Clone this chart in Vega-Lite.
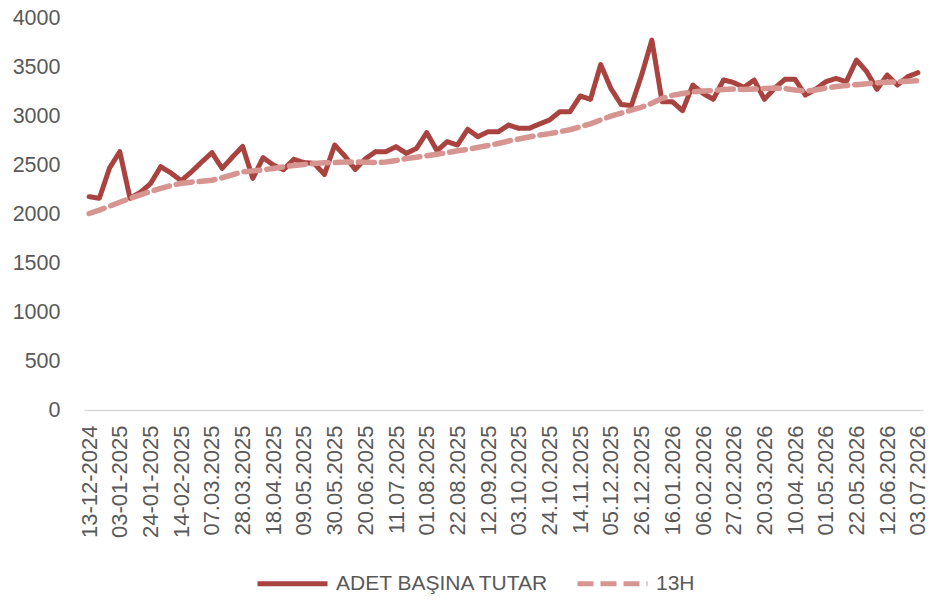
{
  "$schema": "https://vega.github.io/schema/vega-lite/v6.json",
  "autosize": "none",
  "width": 839,
  "height": 392,
  "padding": {"left": 84, "top": 18, "right": 9, "bottom": 191},
  "background": "white",
  "config": {"view": {"stroke": null}, "font": "Liberation Sans"},
  "data": {"values": [
    {"d": "13-12-2024", "a": 2177, "h": 2005},
    {"d": "20-12-2024", "a": 2160, "h": 2040},
    {"d": "27-12-2024", "a": 2470, "h": 2080},
    {"d": "03-01-2025", "a": 2636, "h": 2120},
    {"d": "10-01-2025", "a": 2160, "h": 2160},
    {"d": "17-01-2025", "a": 2220, "h": 2195},
    {"d": "24-01-2025", "a": 2310, "h": 2230},
    {"d": "31-01-2025", "a": 2483, "h": 2262},
    {"d": "07-02-2025", "a": 2418, "h": 2290},
    {"d": "14-02-2025", "a": 2340, "h": 2313},
    {"d": "21.02.2025", "a": 2430, "h": 2325},
    {"d": "28.02.2025", "a": 2530, "h": 2335},
    {"d": "07.03.2025", "a": 2626, "h": 2345},
    {"d": "14.03.2025", "a": 2466, "h": 2370},
    {"d": "21.03.2025", "a": 2580, "h": 2400},
    {"d": "28.03.2025", "a": 2690, "h": 2430},
    {"d": "04.04.2025", "a": 2364, "h": 2440},
    {"d": "11.04.2025", "a": 2575, "h": 2450},
    {"d": "18.04.2025", "a": 2500, "h": 2465},
    {"d": "25.04.2025", "a": 2452, "h": 2480},
    {"d": "02.05.2025", "a": 2558, "h": 2495},
    {"d": "09.05.2025", "a": 2525, "h": 2505},
    {"d": "16.05.2025", "a": 2517, "h": 2515},
    {"d": "23.05.2025", "a": 2403, "h": 2522},
    {"d": "30.05.2025", "a": 2704, "h": 2525},
    {"d": "06.06.2025", "a": 2590, "h": 2530},
    {"d": "13.06.2025", "a": 2455, "h": 2530},
    {"d": "20.06.2025", "a": 2563, "h": 2528},
    {"d": "27.06.2025", "a": 2636, "h": 2525},
    {"d": "04.07.2025", "a": 2636, "h": 2530},
    {"d": "11.07.2025", "a": 2687, "h": 2545},
    {"d": "18.07.2025", "a": 2619, "h": 2565},
    {"d": "25.07.2025", "a": 2670, "h": 2580},
    {"d": "01.08.2025", "a": 2830, "h": 2595},
    {"d": "08.08.2025", "a": 2646, "h": 2610},
    {"d": "15.08.2025", "a": 2738, "h": 2625},
    {"d": "22.08.2025", "a": 2704, "h": 2645},
    {"d": "29.08.2025", "a": 2864, "h": 2660},
    {"d": "05.09.2025", "a": 2789, "h": 2680},
    {"d": "12.09.2025", "a": 2840, "h": 2700},
    {"d": "19.09.2025", "a": 2840, "h": 2720},
    {"d": "26.09.2025", "a": 2908, "h": 2745},
    {"d": "03.10.2025", "a": 2874, "h": 2765},
    {"d": "10.10.2025", "a": 2874, "h": 2785},
    {"d": "17.10.2025", "a": 2918, "h": 2805},
    {"d": "24.10.2025", "a": 2959, "h": 2820},
    {"d": "31.10.2025", "a": 3044, "h": 2840},
    {"d": "07.11.2025", "a": 3044, "h": 2860},
    {"d": "14.11.2025", "a": 3204, "h": 2890},
    {"d": "21.11.2025", "a": 3170, "h": 2920},
    {"d": "28.11.2025", "a": 3525, "h": 2960},
    {"d": "05.12.2025", "a": 3280, "h": 3000},
    {"d": "12.12.2025", "a": 3117, "h": 3030},
    {"d": "19.12.2025", "a": 3107, "h": 3060},
    {"d": "26.12.2025", "a": 3418, "h": 3090},
    {"d": "02.01.2026", "a": 3775, "h": 3130},
    {"d": "09.01.2026", "a": 3146, "h": 3180},
    {"d": "16.01.2026", "a": 3146, "h": 3210},
    {"d": "23.01.2026", "a": 3054, "h": 3230},
    {"d": "30.01.2026", "a": 3316, "h": 3245},
    {"d": "06.02.2026", "a": 3231, "h": 3255},
    {"d": "13.02.2026", "a": 3170, "h": 3260},
    {"d": "20.02.2026", "a": 3367, "h": 3270},
    {"d": "27.02.2026", "a": 3340, "h": 3275},
    {"d": "06.03.2026", "a": 3293, "h": 3270},
    {"d": "13.03.2026", "a": 3367, "h": 3275},
    {"d": "20.03.2026", "a": 3170, "h": 3280},
    {"d": "27.03.2026", "a": 3283, "h": 3285},
    {"d": "03.04.2026", "a": 3374, "h": 3280},
    {"d": "10.04.2026", "a": 3374, "h": 3265},
    {"d": "17.04.2026", "a": 3214, "h": 3255},
    {"d": "24.04.2026", "a": 3272, "h": 3265},
    {"d": "01.05.2026", "a": 3350, "h": 3285},
    {"d": "08.05.2026", "a": 3384, "h": 3300},
    {"d": "15.05.2026", "a": 3350, "h": 3310},
    {"d": "22.05.2026", "a": 3571, "h": 3320},
    {"d": "29.05.2026", "a": 3452, "h": 3330},
    {"d": "05.06.2026", "a": 3272, "h": 3340},
    {"d": "12.06.2026", "a": 3418, "h": 3345},
    {"d": "19.06.2026", "a": 3316, "h": 3350},
    {"d": "26.06.2026", "a": 3401, "h": 3355},
    {"d": "03.07.2026", "a": 3442, "h": 3360}
  ]},
  "encoding": {
    "x": {
      "field": "d", "type": "ordinal", "sort": null,
      "scale": {"type": "point", "padding": 0.5},
      "axis": {
        "title": null,
        "values": ["13-12-2024","03-01-2025","24-01-2025","14-02-2025","07.03.2025","28.03.2025","18.04.2025","09.05.2025","30.05.2025","20.06.2025","11.07.2025","01.08.2025","22.08.2025","12.09.2025","03.10.2025","24.10.2025","14.11.2025","05.12.2025","26.12.2025","16.01.2026","06.02.2026","27.02.2026","20.03.2026","10.04.2026","01.05.2026","22.05.2026","12.06.2026","03.07.2026"],
        "labelAngle": -90,
        "labelAlign": "right",
        "labelBaseline": "middle",
        "labelFontSize": 22,
        "labelColor": "#595959",
        "labelPadding": 15,
        "labelOverlap": false,
        "ticks": false,
        "grid": false,
        "domainColor": "#D9D9D9",
        "domainWidth": 1.5
      }
    }
  },
  "layer": [
    {
      "mark": {"type": "line", "strokeWidth": 5, "strokeJoin": "round", "strokeCap": "round"},
      "encoding": {
        "y": {
          "field": "a", "type": "quantitative",
          "scale": {"domain": [0, 4000], "nice": false},
          "axis": {
            "title": null,
            "format": "d",
            "values": [0, 500, 1000, 1500, 2000, 2500, 3000, 3500, 4000],
            "labelFontSize": 21.5,
            "labelColor": "#595959",
            "labelPadding": 24,
            "ticks": false,
            "domain": false,
            "grid": false
          }
        },
        "color": {
          "datum": "ADET BAŞINA TUTAR",
          "scale": {"domain": ["ADET BAŞINA TUTAR", "13H"], "range": ["#A9433F", "#D79592"]},
          "legend": {
            "title": null,
            "orient": "none",
            "direction": "horizontal",
            "legendX": 171,
            "legendY": 528,
            "symbolType": "stroke",
            "symbolSize": 4900,
            "symbolStrokeWidth": 5,
            "labelFontSize": 21,
            "labelLimit": 500,
            "labelColor": "#595959",
            "labelOffset": 6,
            "columnPadding": 17
          }
        },
        "strokeDash": {
          "datum": "ADET BAŞINA TUTAR",
          "scale": {"domain": ["ADET BAŞINA TUTAR", "13H"], "range": [[1, 0], [16, 7]]},
          "legend": {
            "title": null,
            "orient": "none",
            "direction": "horizontal",
            "legendX": 171,
            "legendY": 528,
            "symbolType": "stroke",
            "symbolSize": 4900,
            "symbolStrokeWidth": 5,
            "labelFontSize": 21,
            "labelLimit": 500,
            "labelColor": "#595959",
            "labelOffset": 6,
            "columnPadding": 17
          }
        }
      }
    },
    {
      "mark": {"type": "line", "strokeWidth": 5.5, "strokeCap": "round"},
      "encoding": {
        "y": {"field": "h", "type": "quantitative"},
        "color": {"datum": "13H"},
        "strokeDash": {"datum": "13H"}
      }
    }
  ]
}
